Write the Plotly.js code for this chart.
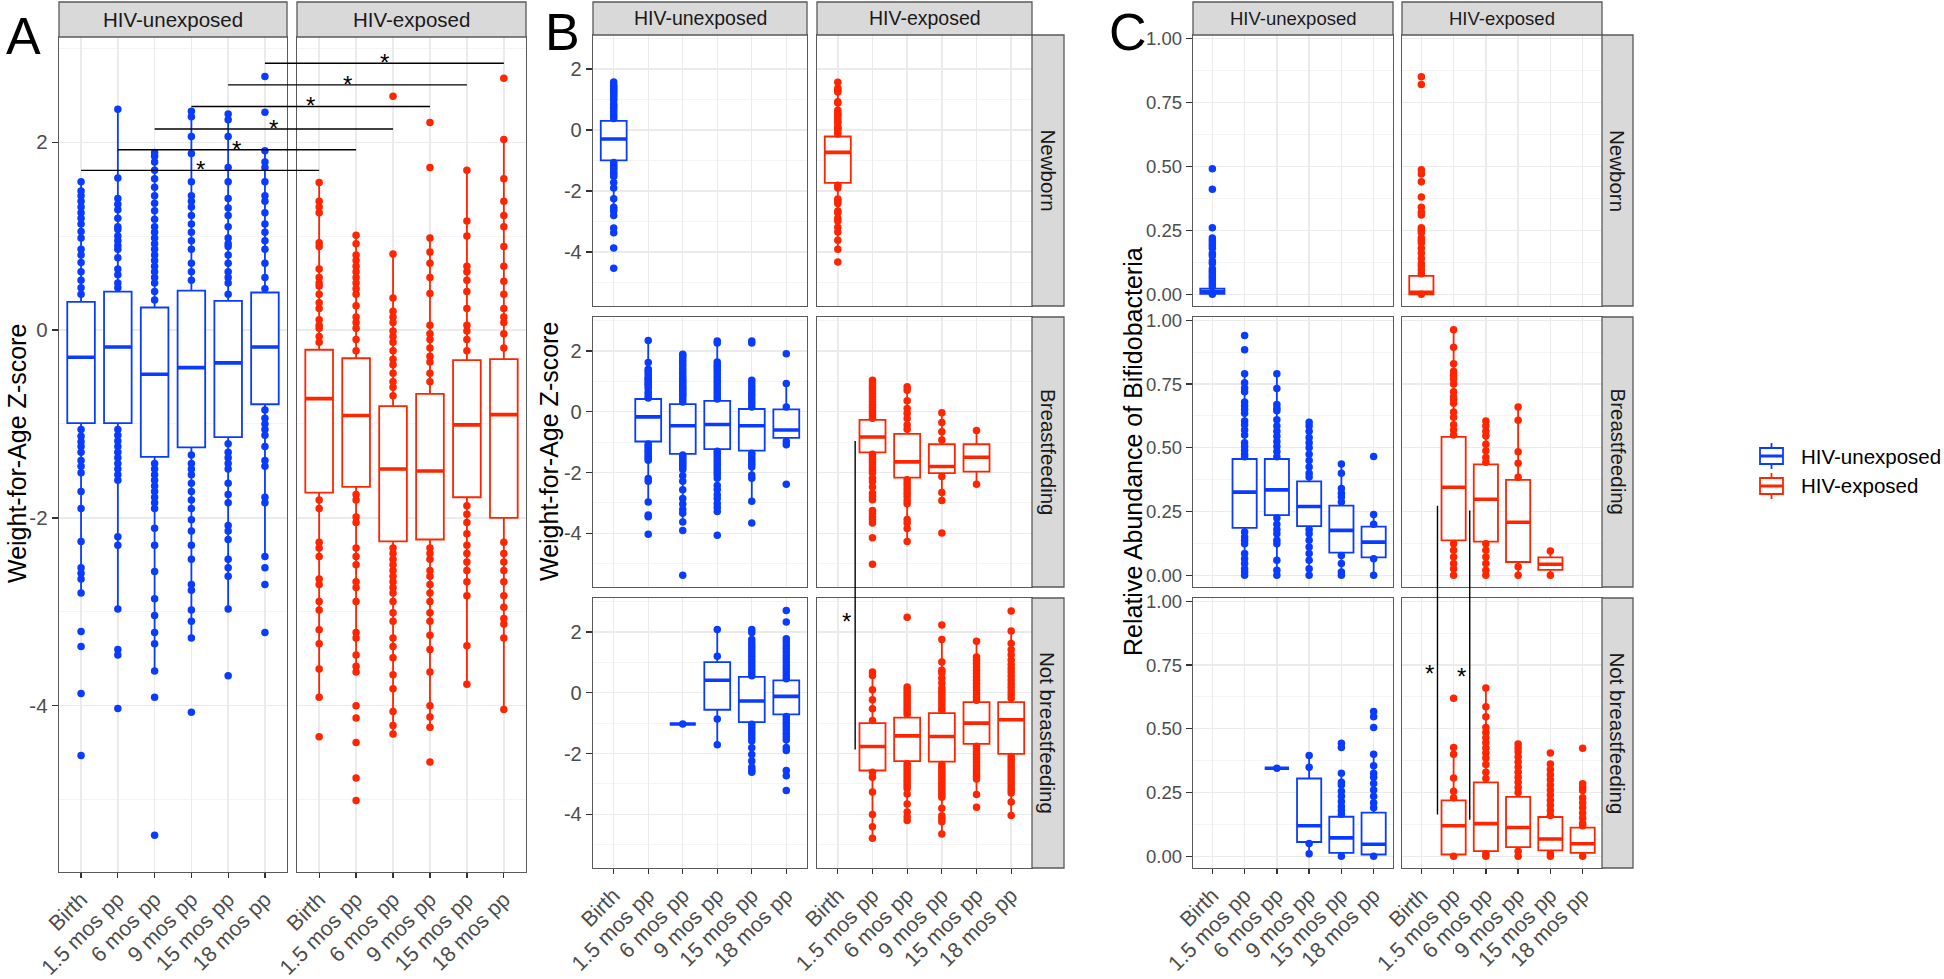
<!DOCTYPE html>
<html>
<head>
<meta charset="utf-8">
<script src="https://cdn.plot.ly/plotly-3.0.1.min.js"></script>
<style>
  html, body { margin: 0; padding: 0; background: #fff; }
  #plot { width: 1944px; height: 979px; }
</style>
</head>
<body>
<div id="plot"></div>
<script>
// Time points
const cats = ['Birth', '1.5 mos pp', '6 mos pp', '9 mos pp', '15 mos pp', '18 mos pp'];
const groups = ['HIV-unexposed', 'HIV-exposed'];
const rowLabels = ['Newborn', 'Breastfeeding', 'Not breastfeeding'];

const zTickVals = [-4, -2, 0, 2];
const zMinorVals = [-5, -3, -1, 1, 3];
const cTickVals = [0, 0.25, 0.5, 0.75, 1];
const cMinorVals = [0.125, 0.375, 0.625, 0.875];

// box stats per time point: [lower whisker, q1, median, q3, upper whisker]
// A - weight-for-age z
const aUnexBox = [
  [-2.80, -0.99, -0.29, 0.30, 1.58],
  [-2.97, -0.99, -0.18, 0.41, 2.35],
  [-3.63, -1.35, -0.47, 0.24, 1.89],
  [-3.28, -1.25, -0.40, 0.42, 2.33],
  [-2.97, -1.14, -0.35, 0.31, 2.30],
  [-2.41, -0.79, -0.18, 0.40, 1.91]
];
const aExpBox = [
  [-3.91, -1.73, -0.73, -0.21, 1.57],
  [-3.64, -1.67, -0.91, -0.30, 1.01],
  [-4.30, -2.25, -1.48, -0.81, 0.81],
  [-4.23, -2.23, -1.50, -0.68, 0.98],
  [-3.77, -1.78, -1.01, -0.32, 1.70],
  [-4.04, -2.00, -0.90, -0.31, 2.03]
];
// points visible outside the boxes
const aUnexPts = [
  [1.58, 1.48, 1.43, 1.37, 1.31, 1.25, 1.19, 1.13, 1.05, 0.98, 0.86, 0.80, 0.72, 0.62, 0.53, 0.45, 0.38,
   -1.06, -1.13, -1.19, -1.24, -1.30, -1.39, -1.45, -1.52, -1.72, -1.90, -2.25, -2.53, -2.59, -2.65, -2.80, -3.21, -3.37, -3.87, -4.53],
  [2.35, 1.62, 1.40, 1.34, 1.28, 1.19, 1.10, 1.07, 1.00, 0.95, 0.90, 0.86, 0.77, 0.65, 0.59, 0.50, 0.45,
   -1.06, -1.12, -1.18, -1.24, -1.30, -1.36, -1.42, -1.48, -1.54, -1.60, -2.20, -2.29, -2.97, -3.40, -3.46, -4.03],
  [1.89, 1.85, 1.79, 1.70, 1.61, 1.52, 1.43, 1.35, 1.27, 1.18, 1.10, 1.04, 0.98, 0.92, 0.86, 0.80, 0.74, 0.68, 0.62, 0.56, 0.50, 0.41, 0.32,
   -1.42, -1.48, -1.54, -1.60, -1.66, -1.72, -1.78, -1.84, -1.90, -2.11, -2.29, -2.57, -2.86, -3.04, -3.22, -3.34, -3.63, -3.91, -5.38],
  [2.33, 2.27, 2.06, 1.88, 1.58, 1.43, 1.37, 1.31, 1.22, 1.13, 1.04, 0.95, 0.86, 0.71, 0.62, 0.53,
   -1.33, -1.42, -1.48, -1.54, -1.63, -1.72, -1.81, -1.90, -2.02, -2.14, -2.29, -2.44, -2.71, -2.77, -2.98, -3.10, -3.28, -4.07],
  [2.30, 2.24, 2.06, 1.73, 1.58, 1.40, 1.30, 1.22, 1.10, 0.98, 0.92, 0.89, 0.80, 0.71, 0.62, 0.56, 0.50, 0.38,
   -1.21, -1.30, -1.36, -1.42, -1.48, -1.63, -1.75, -1.84, -2.08, -2.14, -2.23, -2.44, -2.53, -2.62, -2.97, -3.68],
  [2.70, 2.32, 1.91, 1.79, 1.73, 1.58, 1.43, 1.37, 1.25, 1.13, 1.04, 0.95, 0.86, 0.71, 0.56, 0.44,
   -0.85, -0.94, -1.00, -1.06, -1.12, -1.24, -1.39, -1.45, -1.78, -1.84, -2.41, -2.53, -2.71, -3.22]
];
const aExpPts = [
  [1.57, 1.37, 1.31, 1.25, 0.93, 0.89, 0.65, 0.56, 0.50, 0.47, 0.38, 0.29, 0.23, 0.11, 0.05, 0.02, -0.07, -0.13,
   -1.81, -1.90, -2.26, -2.32, -2.41, -2.65, -2.71, -2.89, -2.98, -3.19, -3.34, -3.61, -3.91, -4.33],
  [1.01, 0.92, 0.80, 0.74, 0.68, 0.62, 0.56, 0.50, 0.44, 0.38, 0.26, 0.14, 0.08, 0.02, -0.10, -0.22,
   -1.75, -1.81, -1.99, -2.05, -2.32, -2.41, -2.50, -2.68, -2.74, -2.89, -3.22, -3.28, -3.46, -3.58, -3.64, -4.00, -4.13, -4.39, -4.77, -5.01],
  [2.49, 0.81, 0.34, 0.20, 0.14, 0.08, -0.01, -0.07, -0.13, -0.22, -0.31, -0.37, -0.46, -0.55, -0.61, -0.70,
   -2.32, -2.38, -2.44, -2.50, -2.56, -2.62, -2.68, -2.74, -2.80, -2.89, -3.01, -3.10, -3.28, -3.37, -3.49, -3.67, -3.82, -4.06, -4.21, -4.30],
  [2.21, 1.73, 0.98, 0.83, 0.71, 0.56, 0.39, 0.05, -0.04, -0.10, -0.19, -0.28, -0.34, -0.46, -0.55,
   -2.32, -2.38, -2.44, -2.56, -2.62, -2.71, -2.80, -2.89, -3.01, -3.10, -3.25, -3.40, -3.64, -4.00, -4.12, -4.23, -4.60],
  [1.70, 1.16, 1.00, 0.68, 0.62, 0.53, 0.41, 0.23, 0.05, -0.01, -0.10, -0.22,
   -1.87, -1.96, -2.05, -2.17, -2.29, -2.38, -2.47, -2.56, -2.68, -2.83, -3.36, -3.77],
  [2.68, 2.03, 1.61, 1.37, 1.22, 1.10, 0.89, 0.68, 0.52, 0.38, 0.23, 0.14, 0.08, -0.04, -0.19,
   -2.26, -2.38, -2.47, -2.56, -2.68, -2.83, -2.95, -3.07, -3.13, -3.28, -4.04]
];
// significance bars of panel A (unexposed vs exposed at each time point)
const aSigY = [1.70, 1.92, 2.14, 2.38, 2.61, 2.84];

// B - weight-for-age z by feeding
const bNewUnexBox = [aUnexBox[0], null, null, null, null, null];
const bNewExpBox = [aExpBox[0], null, null, null, null, null];
const bNewUnexPts = [aUnexPts[0], [], [], [], [], []];
const bNewExpPts = [aExpPts[0], [], [], [], [], []];
const bBfUnexBox = [
  null,
  [-2.95, -0.98, -0.17, 0.42, 2.35],
  [-3.61, -1.39, -0.46, 0.25, 1.93],
  [-3.28, -1.23, -0.42, 0.36, 2.33],
  [-2.95, -1.28, -0.46, 0.09, 1.04],
  [-1.09, -0.86, -0.60, 0.08, 0.93]
];
const bBfUnexPts = [
  [],
  aUnexPts[1],
  aUnexPts[2],
  [2.33, 2.26, 1.64, 1.55, 1.48, 1.40, 1.31, 1.22, 1.13, 1.04, 0.95, 0.86, 0.77, 0.68, 0.59, 0.50, 0.42,
   -1.30, -1.37, -1.46, -1.55, -1.64, -1.73, -1.82, -1.91, -2.00, -2.08, -2.19, -2.43, -2.56, -2.73, -2.86, -3.02, -3.15, -3.28, -4.07],
  [2.33, 2.26, 1.04, 0.93, 0.82, 0.71, 0.60, 0.50, 0.39, 0.28, 0.16,
   -1.37, -1.46, -1.55, -1.64, -1.73, -1.82, -2.08, -2.19, -2.95, -3.66],
  [1.91, 0.93, 0.16, -0.98, -1.09, -2.39]
];
const bBfExpBox = [
  null,
  [-2.90, -1.34, -0.83, -0.27, 1.04],
  [-4.27, -2.17, -1.65, -0.73, 0.82],
  [-2.92, -2.02, -1.80, -1.07, -0.03],
  [-2.39, -1.97, -1.50, -1.07, -0.62],
  null
];
const bBfExpPts = [
  [],
  [1.04, 0.95, 0.86, 0.77, 0.68, 0.60, 0.50, 0.42, 0.33, 0.24, 0.15, 0.06, -0.03, -0.12, -0.21,
   -1.40, -1.48, -1.57, -1.66, -1.75, -1.84, -1.93, -2.02, -2.19, -2.30, -2.48, -2.68, -2.79, -2.90, -3.25, -3.35, -3.46, -3.55, -3.66, -4.15, -5.02],
  [0.82, 0.71, 0.36, 0.11, -0.05, -0.22, -0.44, -0.58,
   -2.24, -2.35, -2.46, -2.57, -2.68, -2.79, -2.92, -3.03, -3.55, -3.66, -3.84, -4.27],
  [-0.03, -0.35, -0.66, -0.93, -2.13, -2.66, -2.92, -3.99],
  [-0.62, -2.39],
  []
];
const bNbUnexBox = [
  null,
  null,
  [-1.03, -1.03, -1.03, -1.03, -1.03],
  [-1.71, -0.56, 0.41, 1.01, 2.08],
  [-2.62, -0.97, -0.27, 0.52, 2.08],
  [-1.90, -0.71, -0.12, 0.41, 1.78]
];
const bNbUnexPts = [
  [],
  [],
  [-1.03],
  [2.08, 1.20, -0.86, -1.71],
  [2.08, 1.98, 1.75, 1.64, 1.53, 1.42, 1.31, 1.20, 1.09, 0.98, 0.87, 0.76, 0.65, 0.56,
   -1.04, -1.15, -1.26, -1.37, -1.48, -1.59, -1.81, -2.03, -2.25, -2.45, -2.55, -2.62],
  [2.71, 2.33, 1.78, 1.67, 1.56, 1.45, 1.34, 1.23, 1.12, 1.01, 0.90, 0.79, 0.68, 0.57, 0.46,
   -0.78, -0.89, -1.00, -1.11, -1.22, -1.33, -1.44, -1.55, -1.80, -1.90, -2.56, -2.73, -3.22]
];
const bNbExpBox = [
  null,
  [-4.79, -2.56, -1.77, -1.00, 0.68],
  [-4.21, -2.25, -1.42, -0.82, 0.19],
  [-4.65, -2.27, -1.44, -0.67, 1.75],
  [-3.35, -1.68, -1.00, -0.31, 1.70],
  [-4.04, -2.01, -0.89, -0.31, 2.03]
];
const bNbExpPts = [
  [],
  [0.68, 0.57, 0.10, -0.23, -0.53, -0.91, -2.62, -2.78, -3.27, -4.01, -4.41, -4.79],
  [2.49, 0.19, 0.10, 0.01, -0.08, -0.17, -0.26, -0.35, -0.44, -0.53, -0.62, -0.71,
   -2.34, -2.43, -2.52, -2.61, -2.70, -2.79, -2.88, -2.97, -3.06, -3.15, -3.33, -3.66, -3.93, -4.08, -4.21],
  [2.23, 1.75, 1.01, 0.74, 0.65, 0.48, 0.32, 0.16, 0.05, -0.06, -0.17, -0.28, -0.39, -0.50, -0.58,
   -2.36, -2.45, -2.54, -2.63, -2.72, -2.81, -2.90, -2.99, -3.08, -3.17, -3.26, -3.35, -3.44, -3.80, -4.05, -4.15, -4.25, -4.65],
  [1.70, 1.18, 1.07, 0.96, 0.85, 0.74, 0.63, 0.52, 0.41, 0.30, 0.19, 0.08, -0.03, -0.14, -0.25,
   -1.76, -1.85, -1.94, -2.03, -2.12, -2.21, -2.30, -2.39, -2.48, -2.57, -2.66, -2.75, -2.84, -3.35, -3.77],
  [2.69, 2.03, 1.62, 1.42, 1.25, 1.08, 0.93, 0.80, 0.68, 0.55, 0.42, 0.30, 0.18, 0.06, -0.06, -0.18,
   -2.10, -2.20, -2.30, -2.40, -2.50, -2.60, -2.70, -2.80, -2.90, -3.00, -3.10, -3.20, -3.30, -3.60, -4.04]
];
// significance bar of panel B (breastfeeding vs not, exposed)
const bSigX = [1.5];
const bSigTop = [-0.96];
const bSigBottom = [-1.87];
const bStarX = [1.25];
const bStarY = [2.55];

// C - relative abundance of Bifidobacteria
const cNewUnexBox = [[0.0, 0.001, 0.010, 0.022, 0.053], null, null, null, null, null];
const cNewExpBox = [[0.0, 0.0, 0.008, 0.072, 0.18], null, null, null, null, null];
const cNewUnexPts = [
  [0.49, 0.41, 0.26, 0.22, 0.21, 0.20, 0.19, 0.18, 0.16, 0.15, 0.13, 0.12, 0.10, 0.09, 0.08, 0.07, 0.06, 0.05, 0.04, 0.03, 0.0],
  [], [], [], [], []
];
const cNewExpPts = [
  [0.85, 0.82, 0.486, 0.47, 0.44, 0.38, 0.34, 0.32, 0.31, 0.26, 0.25, 0.24, 0.22, 0.21, 0.20, 0.18, 0.16, 0.14, 0.12, 0.11, 0.095, 0.08, 0.0],
  [], [], [], [], []
];
const cBfUnexBox = [
  null,
  [0.0, 0.186, 0.326, 0.456, 0.79],
  [0.0, 0.236, 0.335, 0.456, 0.79],
  [0.0, 0.193, 0.270, 0.368, 0.60],
  [0.0, 0.089, 0.176, 0.273, 0.436],
  [0.0, 0.070, 0.130, 0.191, 0.238]
];
const cBfUnexPts = [
  [],
  [0.94, 0.885, 0.79, 0.755, 0.735, 0.72, 0.68, 0.665, 0.65, 0.635, 0.605, 0.59, 0.57, 0.55, 0.52, 0.505, 0.49, 0.475, 0.465,
   0.17, 0.15, 0.137, 0.124, 0.085, 0.065, 0.046, 0.026, 0.013, 0.0],
  [0.79, 0.733, 0.67, 0.655, 0.645, 0.61, 0.585, 0.565, 0.545, 0.525, 0.505, 0.485, 0.465,
   0.225, 0.20, 0.18, 0.163, 0.137, 0.124, 0.059, 0.02, 0.0],
  [0.60, 0.585, 0.565, 0.54, 0.52, 0.50, 0.475, 0.45, 0.425, 0.40, 0.385,
   0.18, 0.163, 0.137, 0.111, 0.085, 0.059, 0.026, 0.0],
  [0.436, 0.40, 0.34, 0.322, 0.307, 0.287, 0.078, 0.046, 0.013, 0.0],
  [0.466, 0.238, 0.20, 0.065, 0.0]
];
const cBfExpBox = [
  null,
  [0.0, 0.137, 0.345, 0.543, 0.963],
  [0.0, 0.132, 0.298, 0.435, 0.605],
  [0.0, 0.052, 0.208, 0.374, 0.66],
  [0.0, 0.021, 0.043, 0.070, 0.095],
  null
];
const cBfExpPts = [
  [],
  [0.963, 0.894, 0.83, 0.80, 0.785, 0.77, 0.75, 0.72, 0.70, 0.69, 0.675, 0.64, 0.62, 0.59, 0.57, 0.55,
   0.124, 0.098, 0.072, 0.046, 0.026, 0.0],
  [0.605, 0.585, 0.565, 0.546, 0.514, 0.488, 0.462, 0.443, 0.124, 0.098, 0.072, 0.046, 0.02, 0.0],
  [0.66, 0.608, 0.484, 0.439, 0.384, 0.033, 0.0],
  [0.095, 0.0],
  []
];
const cNbUnexBox = [
  null,
  null,
  [0.345, 0.345, 0.345, 0.345, 0.345],
  [0.01, 0.056, 0.12, 0.305, 0.395],
  [0.0, 0.013, 0.072, 0.155, 0.326],
  [0.0, 0.007, 0.047, 0.171, 0.40]
];
const cNbUnexPts = [
  [],
  [],
  [0.345],
  [0.395, 0.349, 0.05, 0.01],
  [0.443, 0.427, 0.326, 0.29, 0.28, 0.255, 0.235, 0.215, 0.195, 0.18, 0.165, 0.0],
  [0.568, 0.547, 0.505, 0.40, 0.355, 0.326, 0.31, 0.285, 0.26, 0.235, 0.21, 0.19, 0.0]
];
const cNbExpBox = [
  null,
  [0.0, 0.007, 0.12, 0.219, 0.427],
  [0.0, 0.02, 0.128, 0.29, 0.66],
  [0.0, 0.036, 0.113, 0.233, 0.44],
  [0.0, 0.023, 0.068, 0.154, 0.362],
  [0.0, 0.013, 0.049, 0.112, 0.22]
];
const cNbExpPts = [
  [],
  [0.62, 0.427, 0.40, 0.307, 0.255, 0.23, 0.0],
  [0.66, 0.586, 0.547, 0.505, 0.485, 0.465, 0.445, 0.425, 0.405, 0.385, 0.36, 0.33, 0.305, 0.01, 0.0],
  [0.44, 0.425, 0.41, 0.39, 0.37, 0.35, 0.33, 0.31, 0.29, 0.27, 0.25, 0.02, 0.0],
  [0.405, 0.362, 0.34, 0.32, 0.30, 0.28, 0.26, 0.24, 0.22, 0.20, 0.18, 0.16, 0.01, 0.0],
  [0.424, 0.284, 0.27, 0.258, 0.23, 0.21, 0.19, 0.17, 0.15, 0.13, 0.12, 0.0]
];
// significance bars of panel C
const cSigX = [1.5, 2.5];
const cSigTop = [0.273, 0.254];
const cSigBottom = [0.164, 0.143];
const cStarX = [1.25, 2.25];
const cStarY = [0.742, 0.727];

// ---------- layout (pixels of the 1944x979 page) ----------
const W = 1944, H = 979;
const BLUE = '#0A3CFF', RED = '#FF2500';
const FONT = 'Liberation Sans, Arial, Helvetica, sans-serif';
const BORDER = '#5A5A5A';
const px = x => x / W;
const py = y => 1 - y / H;

const COLS_A = [[59, 287], [297, 526]];
const ROW_A = [37, 872];
const COLS_B = [[593, 807], [817, 1032]];
const COLS_C = [[1193, 1393], [1402, 1602]];
const ROWS = [[35, 306], [317, 587], [598, 868]];
const STRIP_B = [1032, 1064];
const STRIP_C = [1602, 1633];
const Z_RANGE = [-5.77, 3.12];
const C_RANGE = [-0.046, 1.013];
const X_RANGE = [0.4, 6.6];

const panels = [
  { col: COLS_A[0], row: ROW_A, box: aUnexBox, pts: aUnexPts, g: 0, kind: 'z', xlab: true, ylab: true, yfs: 20.5 },
  { col: COLS_A[1], row: ROW_A, box: aExpBox, pts: aExpPts, g: 1, kind: 'z', xlab: true, ylab: false },
  { col: COLS_B[0], row: ROWS[0], box: bNewUnexBox, pts: bNewUnexPts, g: 0, kind: 'z', xlab: false, ylab: true, yfs: 20 },
  { col: COLS_B[1], row: ROWS[0], box: bNewExpBox, pts: bNewExpPts, g: 1, kind: 'z', xlab: false, ylab: false },
  { col: COLS_B[0], row: ROWS[1], box: bBfUnexBox, pts: bBfUnexPts, g: 0, kind: 'z', xlab: false, ylab: true, yfs: 20 },
  { col: COLS_B[1], row: ROWS[1], box: bBfExpBox, pts: bBfExpPts, g: 1, kind: 'z', xlab: false, ylab: false },
  { col: COLS_B[0], row: ROWS[2], box: bNbUnexBox, pts: bNbUnexPts, g: 0, kind: 'z', xlab: true, ylab: true, yfs: 20 },
  { col: COLS_B[1], row: ROWS[2], box: bNbExpBox, pts: bNbExpPts, g: 1, kind: 'z', xlab: true, ylab: false },
  { col: COLS_C[0], row: ROWS[0], box: cNewUnexBox, pts: cNewUnexPts, g: 0, kind: 'c', xlab: false, ylab: true, yfs: 18.5 },
  { col: COLS_C[1], row: ROWS[0], box: cNewExpBox, pts: cNewExpPts, g: 1, kind: 'c', xlab: false, ylab: false },
  { col: COLS_C[0], row: ROWS[1], box: cBfUnexBox, pts: cBfUnexPts, g: 0, kind: 'c', xlab: false, ylab: true, yfs: 18.5 },
  { col: COLS_C[1], row: ROWS[1], box: cBfExpBox, pts: cBfExpPts, g: 1, kind: 'c', xlab: false, ylab: false },
  { col: COLS_C[0], row: ROWS[2], box: cNbUnexBox, pts: cNbUnexPts, g: 0, kind: 'c', xlab: true, ylab: true, yfs: 18.5 },
  { col: COLS_C[1], row: ROWS[2], box: cNbExpBox, pts: cNbExpPts, g: 1, kind: 'c', xlab: true, ylab: false }
];

const traces = [];
const layout = {
  width: W, height: H,
  margin: { l: 0, r: 0, t: 0, b: 0 },
  paper_bgcolor: '#fff', plot_bgcolor: '#fff',
  font: { family: FONT, color: '#1A1A1A' },
  showlegend: false,
  shapes: [],
  annotations: []
};

const catPos = cats.map((c, i) => i + 1);

panels.forEach((p, i) => {
  const n = i === 0 ? '' : String(i + 1);
  const color = p.g === 0 ? BLUE : RED;
  const isZ = p.kind === 'z';
  const tickVals = isZ ? zTickVals : cTickVals;
  const pos = catPos.filter((v, k) => p.box[k]);
  const bx = p.box.filter(b => b);

  layout['xaxis' + n] = {
    domain: [px(p.col[0]), px(p.col[1])], anchor: 'y' + n,
    range: X_RANGE, tickmode: 'array', tickvals: catPos, ticktext: cats,
    showticklabels: p.xlab, ticks: p.xlab ? 'outside' : '', ticklen: 5, tickwidth: 1.3, tickcolor: '#333',
    tickangle: -45, tickfont: { size: 21.5, color: '#4D4D4D', family: FONT },
    showgrid: true, gridcolor: '#EBEBEB', gridwidth: 1.4, zeroline: false,
    showline: true, mirror: true, linecolor: BORDER, linewidth: 1.3, fixedrange: true
  };
  layout['yaxis' + n] = {
    domain: [py(p.row[1]), py(p.row[0])], anchor: 'x' + n,
    range: isZ ? Z_RANGE : C_RANGE, tickmode: 'array', tickvals: tickVals,
    ticktext: tickVals.map(v => isZ ? String(v) : v.toFixed(2)),
    showticklabels: p.ylab, ticks: p.ylab ? 'outside' : '', ticklen: 6, tickwidth: 1.3, tickcolor: '#333',
    tickfont: { size: p.yfs || 20, color: '#4D4D4D', family: FONT },
    showgrid: true, gridcolor: '#EBEBEB', gridwidth: 1.4, zeroline: false,
    minor: { tickvals: isZ ? zMinorVals : cMinorVals, showgrid: true, gridcolor: '#F4F4F4', gridwidth: 1, ticks: '' },
    showline: true, mirror: true, linecolor: BORDER, linewidth: 1.3, fixedrange: true
  };

  // boxes
  traces.push({
    type: 'box', xaxis: 'x' + n, yaxis: 'y' + n, x: pos,
    lowerfence: bx.map(b => b[0]), q1: bx.map(b => b[1]), median: bx.map(b => b[2]),
    q3: bx.map(b => b[3]), upperfence: bx.map(b => b[4]),
    width: 0.75, fillcolor: '#fff', line: { color: color, width: 1.8 },
    boxpoints: false, whiskerwidth: 0, hoverinfo: 'skip', name: groups[p.g]
  });
  // thicker median bar
  traces.push({
    type: 'box', xaxis: 'x' + n, yaxis: 'y' + n, x: pos,
    lowerfence: bx.map(b => b[2]), q1: bx.map(b => b[2]), median: bx.map(b => b[2]),
    q3: bx.map(b => b[2]), upperfence: bx.map(b => b[2]),
    width: 0.75, fillcolor: 'rgba(0,0,0,0)', line: { color: color, width: 3.6 },
    boxpoints: false, whiskerwidth: 0, hoverinfo: 'skip'
  });
  // data points
  const xs = [], ys = [];
  p.pts.forEach((arr, k) => arr.forEach(v => { xs.push(catPos[k]); ys.push(v); }));
  traces.push({
    type: 'scatter', mode: 'markers', xaxis: 'x' + n, yaxis: 'y' + n, x: xs, y: ys,
    marker: { color: color, size: 7.5, line: { width: 0 } }, hoverinfo: 'skip'
  });
});

// strips
function strip(x0, x1, y0, y1, text, size, angle) {
  layout.shapes.push({
    type: 'rect', xref: 'paper', yref: 'paper', x0: px(x0), x1: px(x1), y0: py(y1), y1: py(y0),
    fillcolor: '#D9D9D9', line: { color: BORDER, width: 1.3 }, layer: 'above'
  });
  layout.annotations.push({
    xref: 'paper', yref: 'paper', x: px((x0 + x1) / 2), y: py((y0 + y1) / 2),
    text: text, showarrow: false, textangle: angle || 0, xanchor: 'center', yanchor: 'middle',
    font: { size: size, color: '#1A1A1A', family: FONT }
  });
}
COLS_A.forEach((c, k) => strip(c[0], c[1], 2, ROW_A[0], groups[k], 20.5));
COLS_B.forEach((c, k) => strip(c[0], c[1], 2, ROWS[0][0], groups[k], 19.5));
COLS_C.forEach((c, k) => strip(c[0], c[1], 2, ROWS[0][0], groups[k], 18.5));
ROWS.forEach((r, k) => {
  strip(STRIP_B[0], STRIP_B[1], r[0], r[1], rowLabels[k], 20.5, 90);
  strip(STRIP_C[0], STRIP_C[1], r[0], r[1], rowLabels[k], 20.5, 90);
});

// axis titles
function vtitle(x, y, text) {
  layout.annotations.push({
    xref: 'paper', yref: 'paper', x: px(x), y: py(y), text: text, showarrow: false,
    textangle: -90, xanchor: 'center', yanchor: 'middle', font: { size: 25, color: '#000', family: FONT }
  });
}
vtitle(17, 454, 'Weight-for-Age Z-score');
vtitle(549, 452, 'Weight-for-Age Z-score');
vtitle(1133, 452, 'Relative Abundance of Bifidobacteria');

// panel letters
[['A', 4, 36], ['B', 543, 32], ['C', 1107, 32]].forEach(l => {
  layout.annotations.push({
    xref: 'paper', yref: 'paper', x: px(l[1]), y: py(l[2]), text: l[0], showarrow: false,
    xanchor: 'left', yanchor: 'middle', font: { size: 52, color: '#000', family: FONT }
  });
});

// legend drawn as ggplot-style boxplot keys
function legendKey(cy, color, label) {
  const x0 = 1760, x1 = 1783, xc = (x0 + x1) / 2;
  const ln = { color: color, width: 1.8 };
  layout.shapes.push({ type: 'line', xref: 'paper', yref: 'paper', x0: px(xc), x1: px(xc), y0: py(cy - 13), y1: py(cy - 8), line: ln });
  layout.shapes.push({ type: 'line', xref: 'paper', yref: 'paper', x0: px(xc), x1: px(xc), y0: py(cy + 8), y1: py(cy + 13), line: ln });
  layout.shapes.push({ type: 'rect', xref: 'paper', yref: 'paper', x0: px(x0), x1: px(x1), y0: py(cy + 8), y1: py(cy - 8), line: ln, fillcolor: '#fff' });
  layout.shapes.push({ type: 'line', xref: 'paper', yref: 'paper', x0: px(x0), x1: px(x1), y0: py(cy), y1: py(cy), line: { color: color, width: 3 } });
  layout.annotations.push({
    xref: 'paper', yref: 'paper', x: px(1799), y: py(cy), text: label, showarrow: false,
    xanchor: 'left', yanchor: 'middle', font: { size: 20.5, color: '#000', family: FONT }
  });
}
legendKey(456, BLUE, groups[0]);
legendKey(486, RED, groups[1]);

// helpers: data value -> paper coordinate
const paperX = (col, v) => px(col[0] + (v - X_RANGE[0]) / (X_RANGE[1] - X_RANGE[0]) * (col[1] - col[0]));
const paperY = (row, range, v) => py(row[1] - (v - range[0]) / (range[1] - range[0]) * (row[1] - row[0]));

function star(xref, yref, x, y) {
  layout.annotations.push({
    xref: xref, yref: yref, x: x, y: y, text: '*', showarrow: false,
    xanchor: 'center', yanchor: 'middle', yshift: -6, font: { size: 24, color: '#000', family: FONT }
  });
}

// panel A bars
aSigY.forEach((v, k) => {
  const x0 = paperX(COLS_A[0], catPos[k]), x1 = paperX(COLS_A[1], catPos[k]);
  layout.shapes.push({ type: 'line', xref: 'paper', yref: 'y', x0: x0, x1: x1, y0: v, y1: v,
    line: { color: '#000', width: 1.4 }, layer: 'above' });
  star('paper', 'y', (x0 + x1) / 2, v + 0.07);
});

// panel B bar (exposed column, rows 2 -> 3)
bSigX.forEach((v, k) => {
  layout.shapes.push({ type: 'line', xref: 'x6', yref: 'paper', x0: v, x1: v,
    y0: paperY(ROWS[1], Z_RANGE, bSigTop[k]), y1: paperY(ROWS[2], Z_RANGE, bSigBottom[k]),
    line: { color: '#000', width: 1.4 }, layer: 'above' });
  star('x8', 'y8', bStarX[k], bStarY[k]);
});

// panel C bars
cSigX.forEach((v, k) => {
  layout.shapes.push({ type: 'line', xref: 'x12', yref: 'paper', x0: v, x1: v,
    y0: paperY(ROWS[1], C_RANGE, cSigTop[k]), y1: paperY(ROWS[2], C_RANGE, cSigBottom[k]),
    line: { color: '#000', width: 1.4 }, layer: 'above' });
  star('x14', 'y14', cStarX[k], cStarY[k]);
});

Plotly.newPlot('plot', traces, layout, { displayModeBar: false, staticPlot: true });
</script>
</body>
</html>
